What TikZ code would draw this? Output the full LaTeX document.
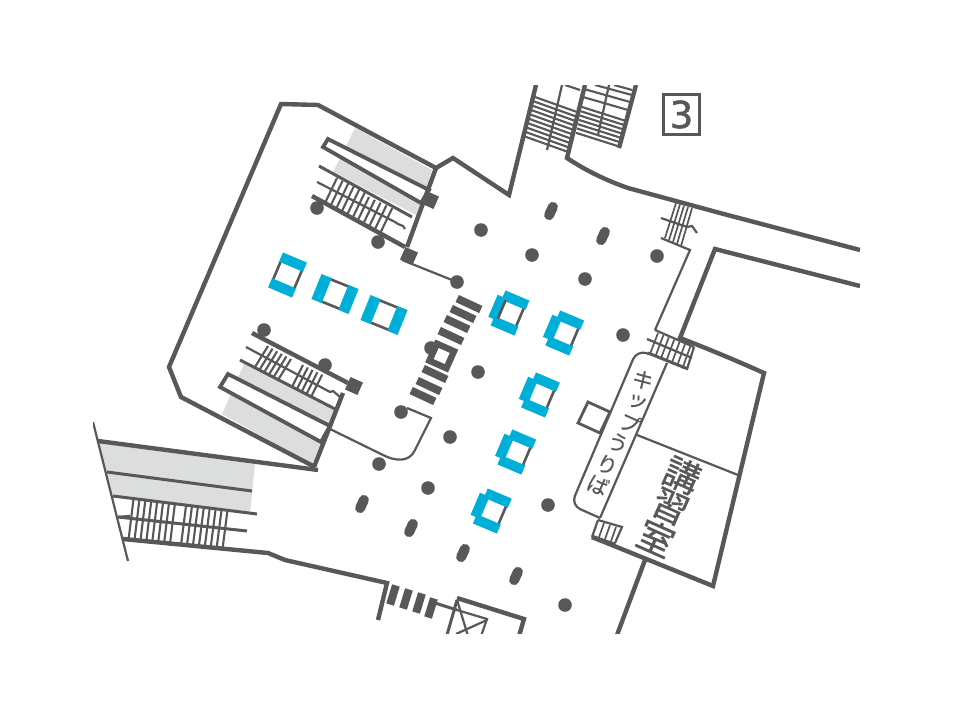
\documentclass[tikz,border=0pt]{standalone}
\usepackage{fontspec}
\setmainfont{DejaVu Sans}
\newfontfamily\cjk[FakeBold=0.35]{Noto Sans CJK JP}
\newfontfamily\cjkbig[FakeBold=0.9]{Noto Sans CJK JP}
\newfontfamily\numfont[FakeBold=1.6]{DejaVu Sans}
\definecolor{wallc}{HTML}{595757}
\definecolor{floorg}{HTML}{DCDDDD}
\definecolor{bluec}{HTML}{00AFD7}
\tikzset{
  wall/.style={draw=wallc,line width=4.4pt,line join=miter},
  mid/.style={draw=wallc,line width=3pt},
  thin/.style={draw=wallc,line width=2.2pt},
  tread/.style={draw=wallc,line width=2.1pt},
  frameline/.style={draw=wallc,line width=3.8pt},
  pillar/.style={fill=wallc,draw=none},
  oval/.style={draw=wallc,line width=10pt,line cap=round},
  blk/.style={fill=wallc,draw=none},
  blu/.style={fill=bluec,draw=none},
  lab/.style={text=wallc,inner sep=0pt,rotate=-24},
  smalllab/.style={lab,font=\cjk\fontsize{21}{21}\selectfont},
  biglab/.style={lab,font=\cjkbig\fontsize{36}{36}\selectfont},
}
\newcommand{\pil}[2]{\fill[pillar] (#1,#2) circle (6.8);}
\newcommand{\ovl}[2]{\draw[oval] ({#1-1.9},{#2+4.1}) -- ({#1+1.9},{#2-4.1});}
% blue box with the coloured bands on the short ends above and below
\newcommand{\boxv}[2]{\begin{scope}[shift={(#1,#2)},rotate=-23]
  \draw[wallc,line width=2.6pt] (-11.5,-10) -- (-11.5,10) (11.5,-10) -- (11.5,10);
  \fill[blu] (-13,-19) rectangle (13,-9);
  \fill[blu] (-13,9) rectangle (13,19);
\end{scope}}
% blue box with the coloured bands left and right
\newcommand{\boxh}[2]{\begin{scope}[shift={(#1,#2)},rotate=-22]
  \draw[wallc,line width=2.6pt] (-10,-12) -- (10,-12) (-10,12) -- (10,12);
  \fill[blu] (-20,-13.5) rectangle (-9,13.5);
  \fill[blu] (9,-13.5) rectangle (20,13.5);
\end{scope}}
% blue C-shaped box, grey on its right side
\newcommand{\boxc}[2]{\begin{scope}[shift={(#1,#2)},rotate=-23]
  \draw[wallc,line width=2.6pt] (10.8,-10) -- (10.8,10);
  \fill[blu] (-13,-19) rectangle (13,-9);
  \fill[blu] (-13,9) rectangle (13,19);
  \fill[blu] (-18.5,-12) rectangle (-8.2,12);
\end{scope}}
\newcommand{\sbarx}[2]{\begin{scope}[shift={(#1,#2)},rotate=-25]
  \fill[blk] (-13,-3.9) rectangle (13,3.9);
\end{scope}}
\newcommand{\vbarx}[2]{\begin{scope}[shift={(#1,#2)},rotate=-17]
  \fill[blk] (-4,-10) rectangle (4,10);
\end{scope}}
\newcommand{\sqx}[2]{\begin{scope}[shift={(#1,#2)},rotate=-24]
  \fill[blk] (-6.8,-6.8) rectangle (6.8,6.8);
\end{scope}}
\begin{document}
\begin{tikzpicture}[x=1pt,y=-1pt]
\useasboundingbox (0,0) rectangle (960,720);
\fill[white] (0,0) rectangle (960,720);
\begin{scope}
\clip (93,85) rectangle (860,633);

% ---- grey floors
\fill[floorg] (355,128) -- (432,170) -- (418,216) -- (333,172) -- cycle;
\fill[floorg] (245,362) -- (335,410) -- (312,464) -- (222,414) -- cycle;
\fill[floorg] (98,443) -- (255,464) -- (250,513) -- (113,496) -- cycle;

% ---- upper-left escalator
\filldraw[fill=white,frameline] (328,139) -- (429,190) -- (421,203) -- (323,147) -- cycle;
\draw[mid] (319,166) -- (412,217);
\draw[thin] (317,182) -- (395,222) -- (398,224) -- (403,226) -- (405,229);
\draw[wall] (312,196) -- (405,247);
\foreach \i in {0,...,5}{\draw[tread] ({337+5.6*\i},{178+2.8*\i}) -- ({325+5.6*\i},{203+2.8*\i});}
\foreach \i in {0,...,4}{\draw[tread] ({369+5.8*\i},{197+2.8*\i}) -- ({357+5.8*\i},{222+2.8*\i});}
\sqx{430}{200}
\sqx{409}{256}
\draw[thin] (402,260) -- (457,282);

% ---- outer wall
\draw[wall] (315,467) -- (181,397) -- (169,367) -- (281,104) -- (318,105) -- (436,168) -- (453,158) -- (509,195) -- (536,85);
\draw[wall] (436,168) -- (407,247);

% ---- lower-left escalator
\filldraw[fill=white,frameline] (228,374) -- (330,426) -- (321,442) -- (220,387) -- cycle;
\draw[mid] (240,360) -- (337,410);
\draw[thin] (246,347) -- (330,392) -- (333,391) -- (340,397);
\draw[wall] (252,333) -- (348,383);
\foreach \i in {0,...,5}{\draw[tread] ({268+4.6*\i},{346+2.6*\i}) -- ({255+4.6*\i},{367+2.6*\i});}
\foreach \i in {0,...,4}{\draw[tread] ({303+4.8*\i},{365+2.4*\i}) -- ({292+4.8*\i},{387+2.4*\i});}
\sqx{354}{386}
\draw[wall] (343,393) -- (314,467);
\draw[wall] (98,441) -- (318,470);
\draw[thin] (330,429) -- (383,455) .. controls (395,461) and (409,463) .. (415,450) -- (431,418) -- (407,408);

% ---- lower-left stair
\draw[thin] (93,422) -- (128,561);
\draw[mid] (107,472) -- (252,491);
\draw[mid] (113,496) -- (257,514);
\draw[mid] (118,517) -- (247,531);
\draw[line width=2.4pt,draw=wallc] (118,517) -- (130,516);
\draw[wall] (123,539) -- (268,553) -- (285,560) -- (387,583) -- (378,620);
\foreach \i in {0,...,7}{\draw[tread] ({133.5+5.9*\i},{499+0.8*\i}) -- ({128.5+5.9*\i},{540+0.8*\i});}
\foreach \i in {0,...,7}{\draw[tread] ({186+5.9*\i},{506+0.8*\i}) -- ({181+5.9*\i},{545+0.8*\i});}

% ---- top stairs
\draw[wall] (585,85) -- (567,158) .. controls (585,170) and (605,180) .. (628,188) -- (720,213) -- (860,250);
\draw[thin] (562,85) -- (547,150);
\draw[thin] (609,85) -- (598,135);
\draw[wall] (636,85) -- (619,148);
\foreach \i in {0,...,9}{\draw[tread] ({535-1.1*\i},{97+4.4*\i}) -- ({577-1.1*\i},{112+4.4*\i});}
\foreach \i in {0,...,6}{\draw[tread] ({582-1*\i},{107+4.3*\i}) -- ({626-1*\i},{121+4.3*\i});}
\draw[tread] (565,85) -- (580,90);
\draw[tread] (595,85) -- (632,95);
\draw[tread] (614,85) -- (632,90);
\draw[tread] (584,89) -- (630,102);
\draw[tread] (583,97) -- (628,110);

% ---- small stair, upper right
\foreach \i in {0,...,4}{\draw[thin,line width=1.7pt] ({676+4*\i},{203+1.3*\i}) -- ({665+4*\i},{238+2*\i});}
\draw[thin] (661,218) -- (687,227) -- (692,226) -- (697,233);
\draw[thin] (661,238) -- (690,250) -- (655,330);

% ---- right rooms
\draw[wall] (860,286) -- (715,249) -- (680,338) .. controls (706,348) and (735,360) .. (764,373) -- (713,586) -- (592,537);
\draw[wall] (645,560) -- (617,635);
\draw[thin] (637,435) -- (738,475);
\filldraw[draw=wallc,fill=white,line width=2.8pt] (588,402) -- (610,412) -- (600,433) -- (578,423) -- cycle;

% stair into the kiosk
\draw[thin] (655,330) -- (694,347);
\draw[thin] (647,339) -- (692,358);
\draw[mid] (648,353) -- (688,369);
\draw[thin] (694,347) -- (687,369);
\foreach \i in {0,...,6}{\draw[tread,line width=1.7pt] ({658+5.4*\i},{333+2.2*\i}) -- ({650+5.4*\i},{354+2.4*\i});}

% kiosk
\draw[thin,rounded corners=10pt] (649,354) -- (637,350) -- (571,505) -- (600,518);
\draw[thin] (667,363) -- (600,518);

% small stair below kiosk
\draw[thin] (598,520) -- (622,527) -- (615,543);
\draw[wall] (592,537) -- (615,545);
\draw[thin] (598,520) -- (592,537);
\foreach \i in {1,2,3}{\draw[tread,line width=1.7pt] ({598+6*\i},{521+2*\i}) -- ({592+6*\i},{538+2*\i});}

% ---- bottom stair and lift
\vbarx{393}{595}
\vbarx{406}{599}
\vbarx{419}{603}
\vbarx{431}{608}
\draw[mid] (435,603) -- (457,610);
\draw[mid] (447,635) -- (457,600);
\draw[wall] (457,598) -- (524,619) -- (519,636);
\draw[thin] (457,610) -- (487,619) -- (481,636);
\draw[thin] (457,600) -- (468,636);
\draw[thin] (487,620) -- (456,634);

% ---- central stair
\sbarx{469}{304}
\sbarx{463}{314}
\sbarx{457}{324}
\sbarx{451}{336}
\sbarx{435}{374}
\sbarx{429}{386}
\sbarx{423}{396}
\begin{scope}[shift={(441.7,356)},rotate=-24]
  \fill[blk] (-12.5,-12.5) rectangle (12.5,12.5);
  \fill[white] (-6,-6) rectangle (6,6);
\end{scope}

% ---- pillars
\foreach \p/\q in {317/208,378/242,264/330,325/365,457/282,481/230,532/255,585/279,657/256,623/335,478/372,431/348,401/412,450/437,379/464,428/488,548/505,565/605}{\pil{\p}{\q}}
\ovl{551}{211}\ovl{603}{236}\ovl{362}{504}\ovl{411}{528}\ovl{463}{553}\ovl{516}{576}

% ---- blue boxes
\boxv{287.5}{275}
\boxh{335}{294}
\boxh{384}{315}
\boxc{510}{313}
\begin{scope}[shift={(510,313)},rotate=-23]\draw[wallc,line width=2.6pt] (-9,-10) -- (-9,10);\end{scope}
\boxc{564.7}{333}
\boxc{540.5}{395}
\boxc{516.8}{452}
\boxc{492.3}{511}

% ---- labels
\node[smalllab] (ka) at (643,380) {キ};
\node[smalllab] (kb) at (637,402) {ッ};
\node[smalllab] (kc) at (630,423) {プ};
\node[smalllab] (kd) at (618,443) {う};
\node[smalllab] (ke) at (607,465) {り};
\node[smalllab] (kf) at (598,485) {ば};
\node[biglab] (ra) at (682,475) {講};
\node[biglab] (rb) at (670,507) {習};
\node[biglab] (rc) at (656,538) {室};
\node[draw=wallc,line width=2.4pt,minimum width=36pt,minimum height=40pt,inner sep=0pt,text=wallc,font=\numfont\fontsize{37}{37}\selectfont] (num) at (681.5,114.5) {3};
\end{scope}
\end{tikzpicture}
\end{document}
